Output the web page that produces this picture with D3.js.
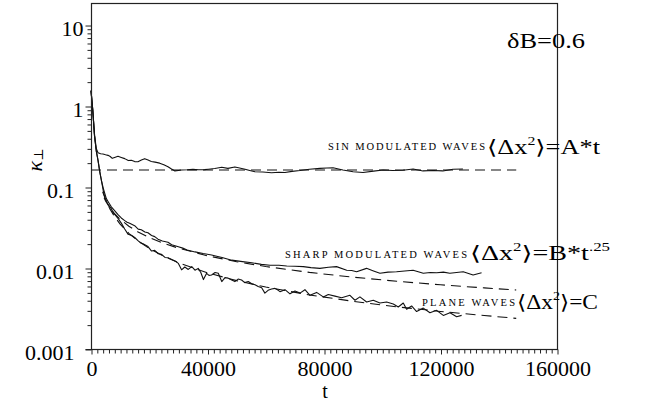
<!DOCTYPE html>
<html>
<head>
<meta charset="utf-8">
<script src="https://cdn.jsdelivr.net/npm/d3@7"></script>
<style>
  html, body { margin: 0; padding: 0; background: #fff; }
  svg { display: block; }
  text { font-family: "Liberation Serif", "DejaVu Serif", serif; fill: #000; }
</style>
</head>
<body>
<svg id="chart" width="661" height="402"></svg>
<script>
// ---- data ----
const xTicksMajor = [0, 40000, 80000, 120000, 160000];
const xTickLabels = ["0", "40000", "80000", "120000", "160000"];
const yTicksMajor = [0.001, 0.01, 0.1, 1, 10];
const yTickLabels = ["0.001", "0.01", "0.1", "1", "10"];
const xDomain = [0, 160000];
const yDomain = [0.001, 18.7];

// solid curves: [t, kappa]
const sinWaves = [[0,1.55],[600,0.9],[1200,0.45],[1800,0.3],[2400,0.265],[3300,0.258],[4100,0.255],[5000,0.25],[5840,0.246],[6600,0.238],[7300,0.226],[8100,0.232],[9270,0.24],[10400,0.232],[11570,0.224],[12800,0.212],[13840,0.214],[15000,0.206],[16130,0.205],[17300,0.215],[18430,0.224],[19600,0.215],[20700,0.207],[22000,0.203],[23580,0.197],[25000,0.188],[26430,0.178],[27500,0.168],[28800,0.158],[30000,0.16],[31100,0.162],[33000,0.163],[35000,0.165],[37000,0.163],[39000,0.164],[40300,0.166],[42500,0.169],[44900,0.175],[47000,0.17],[49400,0.177],[51000,0.172],[52900,0.166],[54500,0.16],[56300,0.154],[59000,0.153],[62000,0.15],[64500,0.152],[66600,0.151],[69000,0.156],[71750,0.16],[75000,0.166],[78600,0.17],[81000,0.172],[83100,0.173],[86500,0.162],[90000,0.154],[93400,0.151],[97000,0.157],[100300,0.162],[103500,0.16],[107100,0.161],[110600,0.167],[114000,0.158],[117500,0.16],[120800,0.158],[124300,0.166],[127700,0.167]];

const sharpWaves = [[0,1.55],[600,0.9],[1200,0.43],[1800,0.28],[2400,0.215],[3000,0.155],[3550,0.122],[4200,0.097],[5260,0.072],[6000,0.065],[6980,0.057],[8100,0.051],[9270,0.0455],[10400,0.0415],[11570,0.0385],[12400,0.0368],[13280,0.0357],[14990,0.0333],[16200,0.0302],[17270,0.0296],[18500,0.0278],[19570,0.0272],[20800,0.0252],[21870,0.0244],[23000,0.0227],[24500,0.0215],[26430,0.0208],[27700,0.0194],[30000,0.0183],[31500,0.0176],[33000,0.0167],[35700,0.0158],[38500,0.0151],[41400,0.0145],[43500,0.0139],[45000,0.0135],[48300,0.0125],[52000,0.012],[55200,0.0116],[58500,0.0111],[61450,0.0108],[64500,0.0108],[67200,0.0106],[70000,0.0105],[72900,0.0104],[75500,0.0101],[78600,0.0099],[81500,0.0102],[84300,0.0104],[87800,0.0094],[89500,0.0093],[91200,0.009],[94600,0.0099],[97000,0.0092],[99200,0.0086],[102000,0.0089],[104900,0.009],[107700,0.0092],[110600,0.0094],[114100,0.0086],[116500,0.0088],[118700,0.00875],[121000,0.0089],[123200,0.0086],[125500,0.0088],[127800,0.009],[131200,0.0082],[134100,0.00875]];

const planeWaves = [[0,1.55],[600,0.9],[1200,0.43],[1800,0.28],[2400,0.215],[3000,0.155],[3550,0.122],[4200,0.09],[4800,0.073],[5840,0.061],[6980,0.054],[7650,0.048],[8130,0.046],[9270,0.041],[10400,0.0358],[11570,0.0303],[12700,0.0262],[14000,0.0252],[15000,0.0238],[16130,0.0218],[17000,0.0205],[17850,0.0199],[19570,0.0184],[20800,0.0162],[21870,0.0165],[23100,0.015],[24140,0.0148],[25400,0.0135],[26430,0.0134],[27700,0.0127],[29000,0.0121],[30000,0.0114],[31100,0.0095],[32200,0.0103],[33400,0.0096],[34600,0.0104],[35700,0.0094],[36800,0.0099],[37700,0.0088],[38600,0.0072],[39700,0.0086],[40500,0.0081],[41400,0.0082],[42600,0.0088],[43700,0.0086],[44900,0.0068],[46000,0.0076],[47100,0.0075],[48300,0.0071],[49400,0.0068],[50500,0.0073],[51700,0.0071],[52800,0.0066],[54000,0.0068],[55200,0.0064],[56300,0.0062],[57400,0.0059],[58600,0.0057],[59700,0.0049],[60800,0.0053],[62000,0.0055],[63170,0.0056],[64300,0.0053],[64880,0.0051],[66600,0.0054],[68310,0.0048],[70030,0.0052],[71750,0.0049],[73460,0.0054],[75180,0.0046],[77460,0.005],[79750,0.0044],[81470,0.0047],[83760,0.0045],[86050,0.0043],[88910,0.0046],[90630,0.004],[92340,0.0044],[94630,0.0038],[96920,0.004],[99210,0.0037],[101500,0.0038],[103790,0.0036],[105500,0.0033],[107220,0.0037],[108360,0.0031],[110080,0.0034],[111800,0.0029],[114090,0.0032],[116380,0.0028],[118670,0.003],[120960,0.0026],[123250,0.0028],[125540,0.0025],[127260,0.0026]];

// dashed fits: [t, kappa]
const sinFit = [[0,0.162],[146000,0.162]];
const sharpFit = [[4500,0.0735],[5000,0.0673],[6500,0.0552],[8000,0.0473],[10000,0.040],[13000,0.0328],[16000,0.0281],[20000,0.0238],[25000,0.0201],[30000,0.0176],[40000,0.01414],[50000,0.01196],[60000,0.01043],[75000,0.00883],[90000,0.0077],[105000,0.00686],[120000,0.0062],[135000,0.00568],[146000,0.00535]];
const planeFit = [[4000,0.0873],[5000,0.0698],[6500,0.0537],[8000,0.0436],[10000,0.0349],[13000,0.0268],[16000,0.0218],[20000,0.01745],[25000,0.01396],[30000,0.01163],[40000,0.00873],[50000,0.00698],[60000,0.00582],[75000,0.00465],[90000,0.00388],[105000,0.00332],[120000,0.00291],[135000,0.00259],[146000,0.00239]];

// ---- drawing ----
const svg = d3.select("#chart");
const L = 91, R = 557, T = 3, B = 349;
const x = d3.scaleLinear().domain(xDomain).range([L, R]);
const y = d3.scaleLog().domain(yDomain).range([B, T]);

const line = d3.line().x(d => x(d[0])).y(d => y(d[1]));

const plot = svg.append("g");
[sinWaves, sharpWaves, planeWaves].forEach(s => {
  plot.append("path").attr("d", line(s)).attr("fill", "none")
    .attr("stroke", "#111").attr("stroke-width", 1.1).attr("stroke-linejoin", "round");
});
[sinFit, sharpFit, planeFit].forEach(s => {
  plot.append("path").attr("d", line(s)).attr("fill", "none")
    .attr("stroke", "#111").attr("stroke-width", 1.1).attr("stroke-dasharray", "10,6");
});

// frame
svg.append("rect").attr("x", L + 0.5).attr("y", T + 0.5)
  .attr("width", R - L).attr("height", B - T)
  .attr("fill", "none").attr("stroke", "#222").attr("stroke-width", 1.2);

// x axis minor
const xMinor = d3.range(0, 160001, 2000).filter(v => v % 40000 !== 0);
svg.append("g").attr("transform", `translate(0.5,${B + 0.5})`)
  .call(d3.axisBottom(x).tickValues(xMinor).tickSize(4).tickSizeOuter(0).tickFormat(""))
  .call(g => g.select(".domain").remove());
svg.append("g").attr("transform", `translate(0.5,${B + 0.5})`)
  .call(d3.axisBottom(x).tickValues(xTicksMajor).tickSize(5).tickSizeOuter(0)
    .tickPadding(6).tickFormat((d, i) => xTickLabels[i]))
  .call(g => g.select(".domain").attr("d", `M${L - 6},0H${R}`))
  .call(g => g.selectAll("text").attr("font-size", 22).attr("font-family", "Liberation Serif"));

// y axis minor
const yMinor = [];
[0.001, 0.01, 0.1, 1, 10].forEach(dec => {
  for (let k = 2; k <= 9; k++) { const v = dec * k; if (v <= yDomain[1]) yMinor.push(v); }
});
svg.append("g").attr("transform", `translate(${L + 0.5},0.5)`)
  .call(d3.axisLeft(y).tickValues(yMinor).tickSize(4).tickSizeOuter(0).tickFormat(""))
  .call(g => g.select(".domain").remove());
svg.append("g").attr("transform", `translate(${L + 0.5},0.5)`)
  .call(d3.axisLeft(y).tickValues(yTicksMajor).tickSize(6).tickSizeOuter(0)
    .tickFormat((d, i) => yTickLabels[i]))
  .call(g => g.select(".domain").remove())
  .call(g => g.selectAll("text")
    .attr("font-size", 22).attr("font-family", "Liberation Serif")
    .attr("dy", "0.45em")
    .attr("x", function() { return this.textContent.indexOf(".") >= 0 ? -(L - 74) : -(L - 83); }));

svg.selectAll(".tick line").attr("stroke", "#222");
svg.selectAll(".domain").attr("stroke", "#222");

// axis titles
svg.append("text").attr("x", 325).attr("y", 398).attr("text-anchor", "middle")
  .attr("font-size", 20).text("t");
const yl = svg.append("text").attr("transform", "translate(42,160) rotate(-90)")
  .attr("text-anchor", "middle").attr("font-size", 22);
yl.append("tspan").attr("font-style", "italic").text("κ");
yl.append("tspan").attr("font-size", 13).attr("dy", 1).text("⊥");

// δB label
svg.append("text").attr("x", 507).attr("y", 48).attr("font-size", 21)
  .attr("textLength", 78).attr("lengthAdjust", "spacingAndGlyphs").text("δB=0.6");

// annotations
function smallCaps(txt, x0, yb, w) {
  svg.append("text").attr("x", x0).attr("y", yb).attr("font-size", 10.5)
    .attr("textLength", w).attr("lengthAdjust", "spacing").text(txt);
}
function mathLabel(rhs, sup, x0, yb, w) {
  const t = svg.append("text").attr("x", x0).attr("y", yb).attr("font-size", 20)
    .attr("textLength", w).attr("lengthAdjust", "spacingAndGlyphs");
  t.append("tspan").text("⟨Δx");
  t.append("tspan").attr("font-size", 12).attr("dy", -9).text("2");
  t.append("tspan").attr("dy", 9).text("⟩=" + rhs);
  if (sup) t.append("tspan").attr("font-size", 12).attr("dy", -9).text(sup);
}
smallCaps("SIN MODULATED WAVES", 328, 150, 157);
mathLabel("A*t", null, 487, 154, 113);
smallCaps("SHARP MODULATED WAVES", 285, 258, 182);
mathLabel("B*t", ".25", 470, 260, 140);
smallCaps("PLANE WAVES", 422, 306, 93);
mathLabel("C", null, 517, 309, 81);
</script>
</body>
</html>
